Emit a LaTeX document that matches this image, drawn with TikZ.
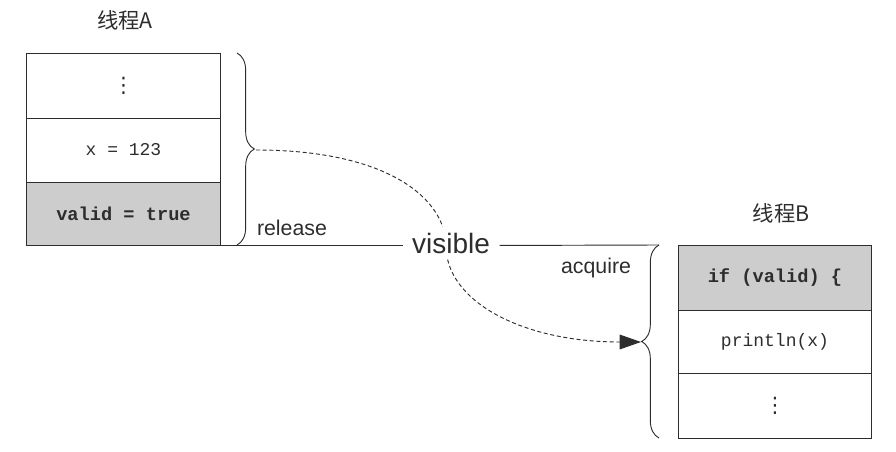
\documentclass[tikz,border=0pt]{standalone}
\usepackage{fontspec}
\setmainfont{Liberation Sans}
\setmonofont{Liberation Mono}
\newfontfamily\cjk{Noto Sans CJK SC}
\newfontfamily\dejavu{DejaVu Sans}
\usetikzlibrary{decorations.pathreplacing,arrows.meta}
\definecolor{ink}{RGB}{45,45,45}
\definecolor{shade}{RGB}{205,205,205}
\tikzset{
  cell/.style={draw=ink, line width=0.7pt, minimum width=145pt, minimum height=48pt, inner sep=0pt, font=\ttfamily\fontsize{13.5}{15}\selectfont, text=ink},
  hot/.style={cell, fill=shade, font=\ttfamily\bfseries\fontsize{14}{15}\selectfont},
  dotcell/.style={cell, font=\dejavu\fontsize{16}{18}\selectfont},
  title/.style={font=\cjk\fontsize{16}{18}\selectfont, text=ink},
  lbl/.style={font=\fontsize{16}{18}\selectfont, text=ink},
  bracestyle/.style={draw=ink, line width=0.7pt, decorate, decoration={brace, amplitude=13pt}},
  flow/.style={draw=ink, line width=0.7pt, dash pattern=on 3pt off 2pt, -{Triangle[length=16pt,width=11pt]}},
  rule/.style={draw=ink, line width=0.7pt}
}
\begin{document}
\begin{tikzpicture}[x=0.75pt,y=-0.75pt]
\useasboundingbox (0,0) rectangle (896,452);
% Thread A
\node[title] (tA) at (125,20) {线程A};
\node[dotcell, minimum height=48.75pt] (a1) at (123.5,85.5) {⋮};
\node[cell] (a2) at (123.5,150) {x = 123};
\node[hot, minimum height=47.25pt] (a3) at (123.5,213.5) {valid = true};
% Thread B
\node[title] (tB) at (781,213) {线程B};
\node[hot, minimum height=48.75pt] (b1) at (775,277.5) {if (valid) \{};
\node[cell, minimum height=47.25pt] (b2) at (775,341.5) {println(x)};
\node[dotcell, minimum height=48.75pt] (b3) at (775,405.5) {⋮};
% braces
\coordinate (braTop) at (237,53);
\coordinate (braBot) at (237,245);
\draw[bracestyle] (braTop) -- (braBot);
\coordinate (braTip) at (256,150);
\coordinate (brbTop) at (659,245);
\coordinate (brbBot) at (659,438);
\draw[bracestyle] (brbBot) -- (brbTop);
\coordinate (brbTip) at (641,342);
% labels
\node[lbl] (rel) at (292,228) {release};
\node[lbl] (acq) at (596,268) {acquire};
% dashed flow
\coordinate (mid) at (446,246);
\draw[flow] (braTip) .. controls (390,150) and (446,200) .. (mid)
  .. controls (446,300) and (520,342) .. (brbTip);
% visible line
\node[font=\fontsize{21}{23}\selectfont, text=ink, fill=white, inner sep=4pt] (vis) at (451,243) {visible};
\draw[rule] (a3.south east) -- ([xshift=-3pt]vis.west |- a3.south east);
\draw[rule] ([xshift=3pt]vis.east |- a3.south east) -- (brbTop);
\end{tikzpicture}
\end{document}
